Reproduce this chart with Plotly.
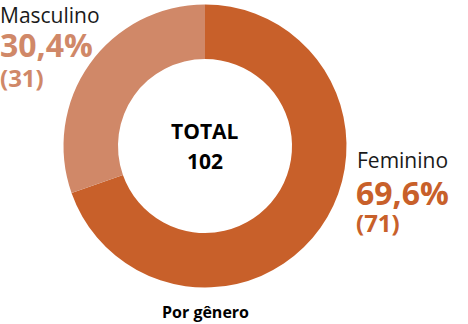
import plotly.graph_objects as go

labels = ["Feminino", "Masculino"]
values = [71, 31]
pcts = ["69,6%", "30,4%"]
counts = ["(71)", "(31)"]
colors = ["#C8602A", "#D08868"]
total_label = "TOTAL"
total_value = 102
subtitle = "Por gênero"

W, H = 468, 324
def px(x): return x / W
def py(y): return 1 - y / H

fig = go.Figure(go.Pie(
    labels=labels, values=values, sort=False, direction="clockwise", rotation=0,
    hole=0.615, marker=dict(colors=colors, line=dict(width=0)),
    textinfo="none", hoverinfo="none", showlegend=False,
    domain=dict(x=[px(205 - 141.5), px(205 + 141.5)], y=[py(287.5), py(4.5)]),
))

F = "Open Sans"
ann = []
def add(text, x, y, size, color, bold=False, xanchor="left"):
    ann.append(dict(text=f"<b>{text}</b>" if bold else text, x=px(x), y=py(y),
                    xref="paper", yref="paper", xanchor=xanchor, yanchor="middle",
                    borderpad=0, showarrow=False,
                    font=dict(family=F, size=size, color=color)))

add(labels[1], -1, 15, 21, "#1a1a1a")
add(pcts[1], -1, 45, 32, colors[1], True)
add(counts[1], -1, 78, 24, colors[1], True)
add(labels[0], 356, 160, 21, "#1a1a1a")
add(pcts[0], 355, 192, 32, colors[0], True)
add(counts[0], 355, 223, 24, colors[0], True)
add(total_label, 205, 131, 21, "#000000", True, "center")
add(str(total_value), 205, 161, 21, "#000000", True, "center")
add(subtitle, 205, 312, 16, "#000000", True, "center")

fig.update_layout(width=W, height=H, margin=dict(l=0, r=0, t=0, b=0),
                  paper_bgcolor="white", plot_bgcolor="white", annotations=ann)
fig.write_html("out.html")
